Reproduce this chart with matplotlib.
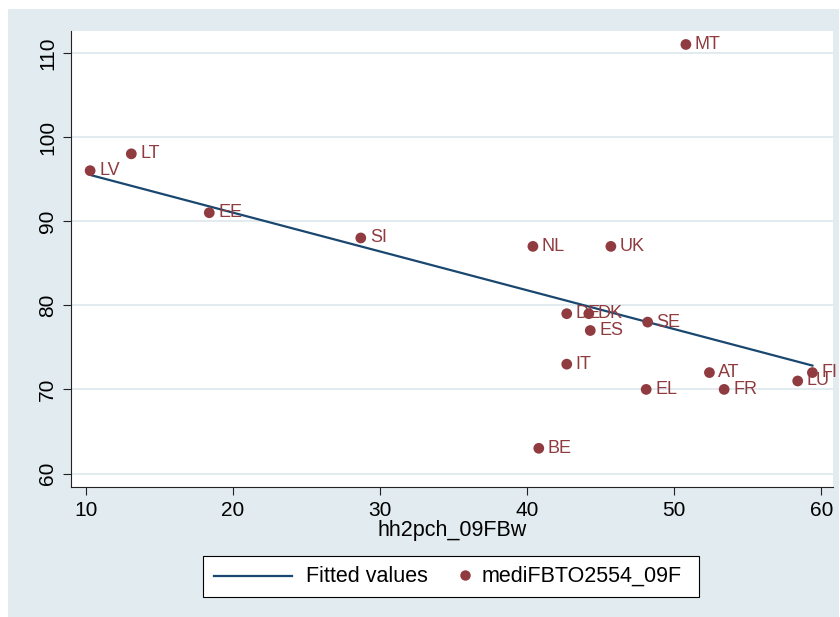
import numpy as np
import matplotlib.pyplot as plt
from matplotlib.patches import Rectangle
from matplotlib.lines import Line2D

plt.rcParams['font.family'] = ['Liberation Sans', 'DejaVu Sans']

# data
countries = ['LV', 'LT', 'EE', 'SI', 'NL', 'UK', 'MT', 'DE', 'DK', 'ES', 'SE',
             'IT', 'AT', 'FI', 'LU', 'EL', 'FR', 'BE']
hh2pch = [10.3, 13.1, 18.4, 28.7, 40.4, 45.7, 50.8, 42.7, 44.2, 44.3, 48.2,
          42.7, 52.4, 59.4, 58.4, 48.1, 53.4, 40.8]
medi = [96, 98, 91, 88, 87, 87, 111, 79, 79, 77, 78,
        73, 72, 72, 71, 70, 70, 63]

x_ticks = [10, 20, 30, 40, 50, 60]
y_ticks = [60, 70, 80, 90, 100, 110]

bg = '#e1ebf0'
red = '#8f3b3f'
navy = '#1a476f'

W, H = 840, 617
def fx(px):
    return px / W
def fy(py):
    return 1 - py / H

fig = plt.figure(figsize=(8.4, 6.17), dpi=100, facecolor='white')
# light panel behind everything (stata graph region)
fig.add_artist(Rectangle((fx(8), 0), fx(831), 1 - 9 / H,
                         transform=fig.transFigure, facecolor=bg,
                         edgecolor='none', zorder=-5))

ax = fig.add_axes([fx(71), fy(487), fx(833 - 71), (487 - 31) / H])
ax.set_facecolor('white')

# linear fit
x = np.array(hh2pch)
y = np.array(medi)
b, a = np.polyfit(x, y, 1)
xs = np.array([x.min(), x.max()])
ax.plot(xs, a + b * xs, color=navy, lw=1.6, zorder=3)

ax.scatter(x, y, s=60, color=red, edgecolor='none', zorder=4)
for c, xi, yi in zip(countries, hh2pch, medi):
    ax.annotate(c, (xi, yi), xytext=(6.5, 0), textcoords='offset points',
                va='center', ha='left', color=red, fontsize=13, zorder=5)

ax.set_xlim(9.0, 60.8)
ax.set_ylim(58.4, 112.6)
ax.set_xticks(x_ticks)
ax.set_yticks(y_ticks)
ax.set_yticklabels([str(t) for t in y_ticks], rotation=90, va='center')
ax.tick_params(labelsize=15, length=6, color='#222222', pad=4)
ax.grid(axis='y', color=bg, lw=1.4)
ax.set_axisbelow(True)
for s in ['top', 'right']:
    ax.spines[s].set_visible(False)
for s in ['left', 'bottom']:
    ax.spines[s].set_color('#222222')
ax.set_xlabel('hh2pch_09FBw', fontsize=15.5, labelpad=0)

# legend box, drawn like stata's
fig.add_artist(Rectangle((fx(203), fy(597)), fx(699 - 203), (597 - 556) / H,
                         transform=fig.transFigure, facecolor='white',
                         edgecolor='black', lw=0.8))
fig.add_artist(Line2D([fx(214), fx(292)], [fy(576), fy(576)],
                      transform=fig.transFigure, color=navy, lw=1.6))
fig.add_artist(Line2D([fx(465)], [fy(575)], transform=fig.transFigure,
                      marker='o', ms=7.5, color=red, mec='none', ls='none'))
fig.text(fx(306), fy(576), 'Fitted values', fontsize=15.5, va='center', ha='left')
fig.text(fx(482), fy(576), 'mediFBTO2554_09F', fontsize=15.5, va='center', ha='left')

fig.savefig('out.png', dpi=100, facecolor=fig.get_facecolor())
